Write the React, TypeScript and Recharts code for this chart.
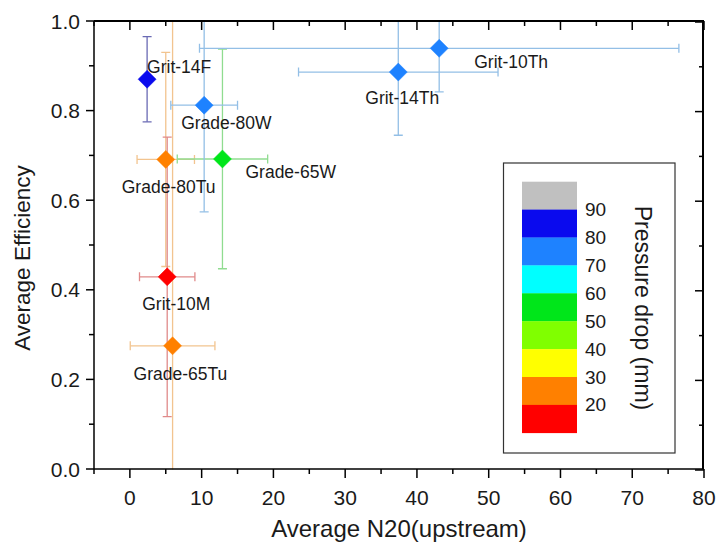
import React from 'react';
import { ScatterChart, Scatter, XAxis, YAxis, ErrorBar } from 'recharts';

// samples
const sampleNames = ['Grade-65Tu', 'Grade-80Tu', 'Grit-10M', 'Grade-65W', 'Grade-80W', 'Grit-14F', 'Grit-14Th', 'Grit-10Th'];
const n20 = [5.95, 5.0, 5.2, 12.9, 10.35, 2.4, 37.4, 43.1];
const n20Err = [5.9, 4.0, 3.86, 6.3, 4.65, 0, 13.9, 33.4];
const efficiency = [0.275, 0.691, 0.429, 0.692, 0.812, 0.87, 0.886, 0.939];
const efficiencyErr = [0.8, 0.239, 0.312, 0.245, 0.238, 0.095, 0.141, 0.097];
const pressureDrop = [25, 25, 15, 55, 75, 85, 75, 75];

// axis ticks
const xDomain = [-5, 80];
const yDomain = [0, 1];
const xTicks = [-5, 0, 5, 10, 15, 20, 25, 30, 35, 40, 45, 50, 55, 60, 65, 70, 75, 80];
const yTicks = [0, 0.1, 0.2, 0.3, 0.4, 0.5, 0.6, 0.7, 0.8, 0.9, 1.0];

// colour scale (top to bottom)
const pressureBounds = [90, 80, 70, 60, 50, 40, 30, 20];
const bandColors = ['#c0c0c0', '#0a0aee', '#1e82ff', '#00ffff', '#00e61a', '#80ff00', '#ffff00', '#ff8000', '#ff0000'];
const bandErrColors = ['#cccccc', '#6a6ab4', '#93bfe6', '#80e0e0', '#90dc90', '#b0e080', '#e0e080', '#f2c48f', '#e08a8a'];

// label placement relative to marker centre (layout only)
const labelOffsets: Record<string, [number, number]> = {
  'Grade-65Tu': [-39, 28],
  'Grade-80Tu': [-44, 28],
  'Grit-10M': [-25, 27],
  'Grade-65W': [23, 13],
  'Grade-80W': [-23, 18],
  'Grit-14F': [0, -12],
  'Grit-14Th': [-33, 26],
  'Grit-10Th': [35, 14],
};

const FONT = "Arial, 'Liberation Sans', sans-serif";
const W = 717;
const H = 549;
const MARGIN = { top: 21, right: 13, bottom: 0, left: 0 };
const Y_AXIS_W = 94;
const X_AXIS_H = 80;
// plot box that follows from the margins and axis sizes above
const PLOT_LEFT = MARGIN.left + Y_AXIS_W;
const PLOT_TOP = MARGIN.top;
const PLOT_RIGHT = W - MARGIN.right;
const PLOT_BOTTOM = H - MARGIN.bottom - X_AXIS_H;

const points = sampleNames.map((name, i) => ({
  name,
  n20: n20[i],
  n20Err: n20Err[i],
  efficiency: efficiency[i],
  efficiencyErr: efficiencyErr[i],
  pressure: pressureDrop[i],
}));

const bandIndex = (p: number) => pressureBounds.filter((b) => b > p).length;

const isMajorX = (v: number) => Math.abs(v % 10) < 1e-9;
const isMajorY = (v: number) => Math.round(v * 10) % 2 === 0;

const renderBottomTick = (props: any) => {
  const { x, y, payload } = props;
  const major = isMajorX(payload.value);
  return (
    <g>
      <line x1={x} x2={x} y1={y} y2={y + (major ? 9 : 5)} stroke="#000" strokeWidth={1.5} />
      {major && (
        <text x={x} y={y + 28} textAnchor="middle" dominantBaseline="central" fontSize={21} fontFamily={FONT} fill="#1a1a1a">
          {payload.value}
        </text>
      )}
    </g>
  );
};

const renderLeftTick = (props: any) => {
  const { x, y, payload } = props;
  const major = isMajorY(payload.value);
  return (
    <g>
      <line x1={x} x2={x - (major ? 8 : 5)} y1={y} y2={y} stroke="#000" strokeWidth={1.5} />
      {major && (
        <text x={x - 14} y={y} textAnchor="end" dominantBaseline="central" fontSize={21} fontFamily={FONT} fill="#1a1a1a">
          {payload.value.toFixed(1)}
        </text>
      )}
    </g>
  );
};

function Diamond(props: any) {
  const { cx, cy, payload } = props;
  if (cx == null || cy == null) return <g />;
  const c = bandColors[bandIndex(payload.pressure)];
  const r = 9;
  const [dx, dy] = labelOffsets[payload.name] || [0, 0];
  return (
    <g>
      <path d={`M${cx},${cy - r}L${cx + r},${cy}L${cx},${cy + r}L${cx - r},${cy}Z`} fill={c} stroke={c} strokeWidth={0.5} />
      <text x={cx + dx} y={cy + dy} dominantBaseline="central" fontSize={17.5} fontFamily={FONT} fill="#1a1a1a">
        {payload.name}
      </text>
    </g>
  );
}

const Nothing = () => <g />;

// top and right edges of the box, ticks pointing inward
function Frame() {
  const pw = PLOT_RIGHT - PLOT_LEFT;
  const ph = PLOT_BOTTOM - PLOT_TOP;
  const px = (v: number) => ((v - xDomain[0]) / (xDomain[1] - xDomain[0])) * pw;
  const py = (v: number) => ph - ((v - yDomain[0]) / (yDomain[1] - yDomain[0])) * ph;
  return (
    <div
      style={{
        position: 'absolute',
        left: PLOT_LEFT,
        top: PLOT_TOP - 1,
        width: pw,
        height: ph + 1,
        borderTop: '2px solid #000',
        borderRight: '2px solid #000',
        boxSizing: 'border-box',
        zIndex: 5,
        pointerEvents: 'none',
      }}
    >
      <svg width={pw} height={ph} style={{ position: 'absolute', left: 0, top: -1, overflow: 'visible' }}>
        <g stroke="#000" strokeWidth={1.5}>
          {xTicks.map((v) => (
            <line key={`t${v}`} x1={px(v)} x2={px(v)} y1={0} y2={isMajorX(v) ? 9 : 5} />
          ))}
          {yTicks.map((v) => (
            <line key={`r${v}`} x1={pw} x2={pw - (isMajorY(v) ? 9 : 5)} y1={py(v) + 1} y2={py(v) + 1} />
          ))}
        </g>
      </svg>
    </div>
  );
}

function ColorScale() {
  const top = 181.7;
  const h = 27.9;
  return (
    <svg width={W} height={H} style={{ position: 'absolute', left: 0, top: 0, pointerEvents: 'none', zIndex: 4 }}>
      <rect x={503.5} y={163} width={171.5} height={290} fill="#fff" stroke="#333" strokeWidth={1.2} />
      {bandColors.map((c, i) => (
        <rect key={c} x={522} y={top + i * h} width={55} height={h + 0.3} fill={c} />
      ))}
      {pressureBounds.map((b, i) => (
        <text key={b} x={585} y={top + (i + 1) * h} dominantBaseline="central" fontSize={19} fontFamily={FONT} fill="#1a1a1a">
          {b}
        </text>
      ))}
      <text x={643} y={308} textAnchor="middle" dominantBaseline="central" fontSize={23} fontFamily={FONT} fill="#1a1a1a" transform="rotate(90 643 308)">
        Pressure drop (mm)
      </text>
    </svg>
  );
}

export default function App() {
  return (
    <div style={{ position: 'absolute', left: 0, top: 0, width: W, height: H, background: '#fff', fontFamily: FONT }}>
      {/* plot-area clip for the error bars, which otherwise run past the frame */}
      <svg width={0} height={0} style={{ position: 'absolute' }}>
        <defs>
          <clipPath id="plotAreaClip" clipPathUnits="userSpaceOnUse">
            <rect x={PLOT_LEFT} y={PLOT_TOP} width={PLOT_RIGHT - PLOT_LEFT} height={PLOT_BOTTOM - PLOT_TOP + 0.5} />
          </clipPath>
        </defs>
      </svg>
      <style>{`.recharts-errorBar { clip-path: url(#plotAreaClip); }`}</style>
      <ScatterChart width={W} height={H} margin={MARGIN}>
        <XAxis
          xAxisId="b"
          type="number"
          dataKey="n20"
          domain={xDomain}
          allowDataOverflow
          ticks={xTicks}
          interval={0}
          height={X_AXIS_H}
          tickSize={0}
          tickMargin={0}
          tick={renderBottomTick}
          axisLine={{ stroke: '#000', strokeWidth: 1.5 }}
          label={{
            content: (p: any) => {
              const vb = p.viewBox || { x: PLOT_LEFT, y: PLOT_BOTTOM, width: PLOT_RIGHT - PLOT_LEFT };
              return (
                <text x={vb.x + vb.width / 2} y={vb.y + 59} textAnchor="middle" dominantBaseline="central" fontSize={24} fontFamily={FONT} fill="#1a1a1a">
                  Average N20(upstream)
                </text>
              );
            },
          }}
        />
        <YAxis
          yAxisId="l"
          type="number"
          dataKey="efficiency"
          domain={yDomain}
          allowDataOverflow
          ticks={yTicks}
          interval={0}
          width={Y_AXIS_W}
          tickSize={0}
          tickMargin={0}
          tick={renderLeftTick}
          axisLine={{ stroke: '#000', strokeWidth: 1.5 }}
          label={{
            content: (p: any) => {
              const vb = p.viewBox || { x: 0, y: PLOT_TOP, height: PLOT_BOTTOM - PLOT_TOP };
              const cy = vb.y + vb.height / 2 + 13;
              return (
                <text x={22} y={cy} textAnchor="middle" dominantBaseline="central" fontSize={22.5} fontFamily={FONT} fill="#1a1a1a" transform={`rotate(-90 22 ${cy})`}>
                  Average Efficiency
                </text>
              );
            },
          }}
        />
        {points.map((p) => {
          const ec = bandErrColors[bandIndex(p.pressure)];
          return (
            <Scatter key={`err-${p.name}`} xAxisId="b" yAxisId="l" data={[p]} shape={<Nothing />} isAnimationActive={false}>
              {p.n20Err > 0 && (
                <ErrorBar dataKey="n20Err" direction="x" width={4.5} stroke={ec} strokeWidth={1.3} isAnimationActive={false} />
              )}
              <ErrorBar dataKey="efficiencyErr" direction="y" width={4.5} stroke={ec} strokeWidth={1.3} isAnimationActive={false} />
            </Scatter>
          );
        })}
        {points.map((p) => (
          <Scatter key={`pt-${p.name}`} xAxisId="b" yAxisId="l" data={[p]} shape={<Diamond />} isAnimationActive={false} />
        ))}
      </ScatterChart>
      <ColorScale />
      <Frame />
    </div>
  );
}
